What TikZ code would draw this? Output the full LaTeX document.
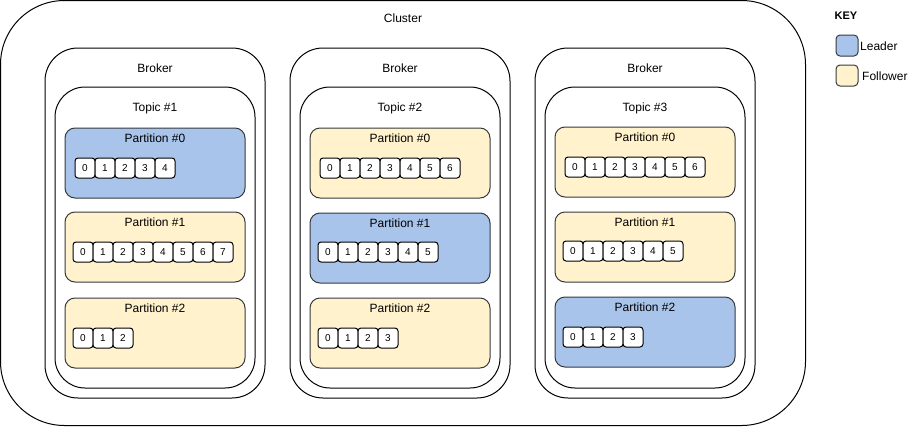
\documentclass[tikz,border=0pt]{standalone}
\usepackage{fontspec}
\setmainfont{Liberation Sans}
\definecolor{leaderfill}{HTML}{A9C4EB}
\definecolor{followfill}{HTML}{FFF2CC}
\definecolor{partstroke}{HTML}{36393D}
\tikzset{
  base/.style={draw=black, line width=1pt, inner sep=0pt, outer sep=0pt, anchor=north west},
  clusterbox/.style={base, rounded corners=64pt, minimum width=805pt, minimum height=425pt},
  brokerbox/.style={base, rounded corners=33pt, minimum width=220pt, minimum height=350pt},
  topicbox/.style={base, rounded corners=30pt, minimum width=200pt, minimum height=301pt},
  partbox/.style={base, draw=partstroke, rounded corners=10pt, minimum width=180pt, minimum height=70pt},
  leaderpart/.style={partbox, fill=leaderfill},
  followpart/.style={partbox, fill=followfill},
  cellbox/.style={base, fill=white, rounded corners=3pt, minimum width=20pt, minimum height=20pt, font=\fontsize{10pt}{12pt}\selectfont},
  keybox/.style={base, draw=partstroke, rounded corners=4pt, minimum width=22pt, minimum height=21pt},
  ttl/.style={inner sep=0pt, font=\fontsize{12pt}{14pt}\selectfont},
  keyttl/.style={inner sep=0pt, font=\fontsize{11pt}{13pt}\selectfont\bfseries},
  keytxt/.style={inner sep=0pt, anchor=west, font=\fontsize{12pt}{14pt}\selectfont},
}
\begin{document}
\begin{tikzpicture}[x=1pt,y=-1pt]
\useasboundingbox (0,0) rectangle (908,426);
% cluster
\node[clusterbox] (cluster) at (0.5,0.5) {};
\node[ttl] (clustert) at (403,18) {Cluster};
% brokers and topics
\foreach \b/\bx/\tn in {1/45/1,2/290/2,3/535/3}{
  \node[brokerbox] (broker\b) at (\bx,48) {};
  \node[ttl] (broker\b t) at (\bx+110,68) {Broker};
  \node[topicbox] (topic\b) at (\bx+10,87) {};
  \node[ttl] (topic\b t) at (\bx+110,108) {Topic \#\tn};
}
% topic 1
\node[leaderpart] (t1p0) at (65,128) {};
\node[ttl] (t1p0t) at (155,138) {Partition \#0};
\node[followpart] (t1p1) at (65,212) {};
\node[ttl] (t1p1t) at (155,222) {Partition \#1};
\node[followpart] (t1p2) at (65,298) {};
\node[ttl] (t1p2t) at (155,308) {Partition \#2};
\foreach \i in {0,...,4}{\node[cellbox] (t1p0c\i) at (75+20*\i,158) {\i};}
\foreach \i in {0,...,7}{\node[cellbox] (t1p1c\i) at (73+20*\i,242) {\i};}
\foreach \i in {0,...,2}{\node[cellbox] (t1p2c\i) at (73+20*\i,328) {\i};}
% topic 2
\node[followpart] (t2p0) at (310,128) {};
\node[ttl] (t2p0t) at (400,138) {Partition \#0};
\node[leaderpart] (t2p1) at (310,213) {};
\node[ttl] (t2p1t) at (400,223) {Partition \#1};
\node[followpart] (t2p2) at (310,298) {};
\node[ttl] (t2p2t) at (400,308) {Partition \#2};
\foreach \i in {0,...,6}{\node[cellbox] (t2p0c\i) at (320+20*\i,158) {\i};}
\foreach \i in {0,...,5}{\node[cellbox] (t2p1c\i) at (318+20*\i,242) {\i};}
\foreach \i in {0,...,3}{\node[cellbox] (t2p2c\i) at (318+20*\i,328) {\i};}
% topic 3
\node[followpart] (t3p0) at (555,127) {};
\node[ttl] (t3p0t) at (645,137) {Partition \#0};
\node[followpart] (t3p1) at (555,212) {};
\node[ttl] (t3p1t) at (645,222) {Partition \#1};
\node[leaderpart] (t3p2) at (555,297) {};
\node[ttl] (t3p2t) at (645,307) {Partition \#2};
\foreach \i in {0,...,6}{\node[cellbox] (t3p0c\i) at (565+20*\i,157) {\i};}
\foreach \i in {0,...,5}{\node[cellbox] (t3p1c\i) at (563+20*\i,241) {\i};}
\foreach \i in {0,...,3}{\node[cellbox] (t3p2c\i) at (563+20*\i,327) {\i};}
% key
\node[keyttl] (keyt) at (846,16) {KEY};
\node[keybox, fill=leaderfill] (keyl) at (836,35) {};
\node[keytxt] (keylt) at (860,46) {Leader};
\node[keybox, fill=followfill] (keyf) at (836,65) {};
\node[keytxt] (keyft) at (862,76) {Follower};
\end{tikzpicture}
\end{document}
